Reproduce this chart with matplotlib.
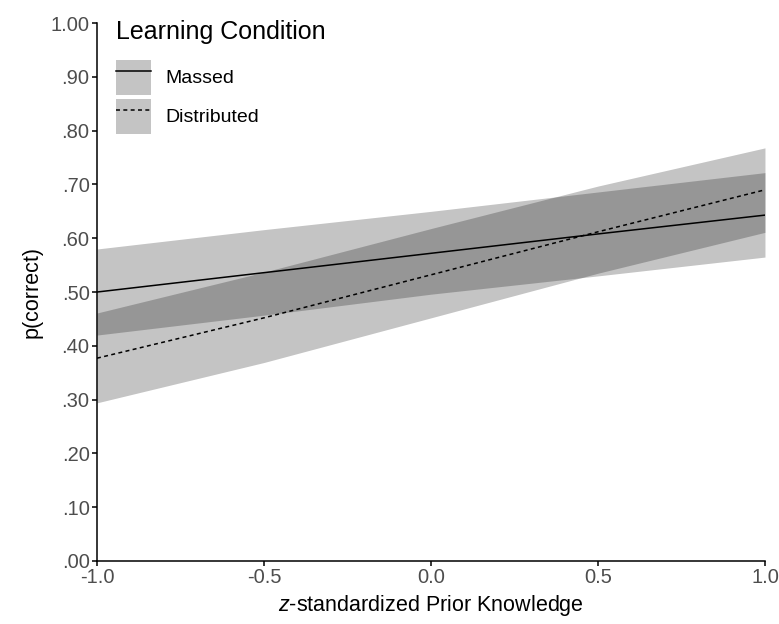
import matplotlib
matplotlib.use("Agg")
import matplotlib.pyplot as plt
from matplotlib.lines import Line2D
from matplotlib.patches import Patch

plt.rcParams['font.family'] = ['Liberation Sans', 'DejaVu Sans']
plt.rcParams['mathtext.fontset'] = 'custom'
plt.rcParams['mathtext.it'] = 'Liberation Sans:italic'

# predicted probabilities with 95% bands, evaluated along prior knowledge
prior = [-1.0, -0.5, 0.0, 0.5, 1.0]

massed_fit = [0.500, 0.536, 0.572, 0.608, 0.643]
massed_lo = [0.420, 0.457, 0.496, 0.530, 0.565]
massed_hi = [0.580, 0.616, 0.650, 0.686, 0.722]

dist_fit = [0.377, 0.452, 0.532, 0.612, 0.690]
dist_lo = [0.294, 0.369, 0.452, 0.535, 0.611]
dist_hi = [0.461, 0.537, 0.618, 0.697, 0.768]

conditions = ["Massed", "Distributed"]
yticks = [0.0, 0.1, 0.2, 0.3, 0.4, 0.5, 0.6, 0.7, 0.8, 0.9, 1.0]
ytick_labels = [".00", ".10", ".20", ".30", ".40", ".50", ".60", ".70", ".80", ".90", "1.00"]
xticks = [-1.0, -0.5, 0.0, 0.5, 1.0]
xtick_labels = ["-1.0", "-0.5", "0.0", "0.5", "1.0"]

dashed = (0, (2.6, 2.2))

fig = plt.figure(figsize=(7.79, 6.24), dpi=100)
ax = fig.add_axes([0.1245, 0.1010, 0.8575, 0.8620])

band_kw = dict(color="black", alpha=0.23, linewidth=0)
ax.fill_between(prior, massed_lo, massed_hi, **band_kw)
ax.fill_between(prior, dist_lo, dist_hi, **band_kw)

ax.plot(prior, massed_fit, color="black", lw=1.1)
ax.plot(prior, dist_fit, color="black", lw=1.1, linestyle=dashed)

ax.set_xlim(-1, 1)
ax.set_ylim(0, 1)
ax.set_xticks(xticks)
ax.set_xticklabels(xtick_labels)
ax.set_yticks(yticks)
ax.set_yticklabels(ytick_labels)

for side in ["top", "right"]:
    ax.spines[side].set_visible(False)
for side in ["left", "bottom"]:
    ax.spines[side].set_linewidth(1.1)
    ax.spines[side].set_color("black")

ax.tick_params(axis="both", length=3.3, width=1.1, color="black",
               labelsize=14.5, labelcolor="#4d4d4d", pad=2)

ax.set_ylabel("p(correct)", fontsize=15.5, labelpad=6)
ax.set_xlabel("$z$-standardized Prior Knowledge", fontsize=15.5, labelpad=4)

handles = [
    (Patch(facecolor="#c4c4c4", edgecolor="none"),
     Line2D([], [], color="black", lw=1.1)),
    (Patch(facecolor="#c4c4c4", edgecolor="none"),
     Line2D([], [], color="black", lw=1.1, linestyle=dashed)),
]
leg = ax.legend(handles, conditions, title="Learning Condition",
                loc="upper left", bbox_to_anchor=(108 / 779, 1 - 12 / 624),
                bbox_transform=fig.transFigure, frameon=False,
                fontsize=14, title_fontsize=18, alignment="left",
                handlelength=1.8, handleheight=2.39, handletextpad=0.77,
                labelspacing=0.2, borderaxespad=0)
# more room between the title and the keys than between the keys
leg._legend_box.sep = 11.5

fig.savefig("out.png", dpi=100)
